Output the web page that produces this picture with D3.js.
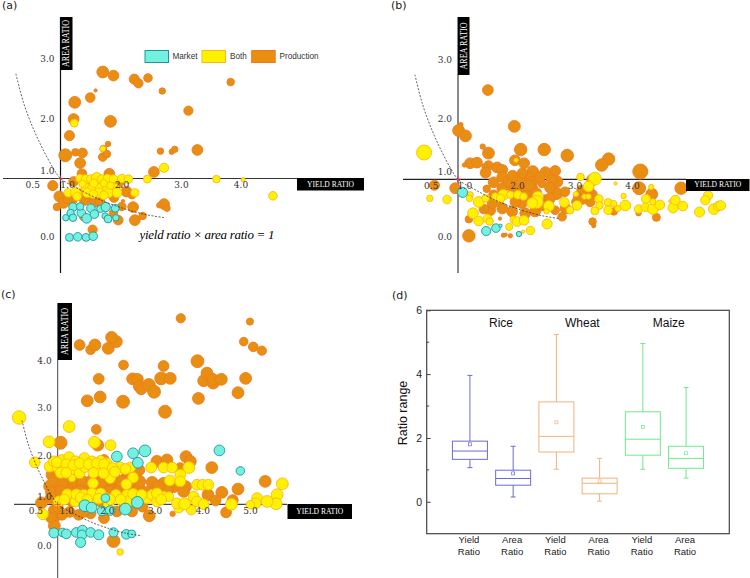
<!DOCTYPE html>
<html><head><meta charset="utf-8">
<style>html,body{margin:0;padding:0;background:#fff}svg{display:block}</style>
<script src="https://cdnjs.cloudflare.com/ajax/libs/d3/7.8.5/d3.min.js"></script>
</head><body><svg id="c" width="750" height="578"></svg>
<script>
// [yield ratio, area ratio, bubble size]
const productionA=[[1.71,2.79,5.5],[1.89,2.73,5],[2.24,2.67,4.7],[2.31,2.60,4.3],[2.47,2.69,4],[3.86,2.62,3.5],[2.71,2.47,3],[1.59,2.48,1.5],[1.50,2.36,4.5],[1.24,2.28,5.5],[3.15,2.14,4.3],[1.22,2.0,5],[1.84,1.96,5.5],[1.15,1.72,4.7],[1.80,1.58,2.5],[1.72,1.50,3.2],[1.71,1.36,4],[1.78,1.41,3.5],[1.08,1.39,6],[1.25,1.44,3.5],[1.37,1.43,4.5],[2.68,1.46,3],[2.87,1.45,2.5],[2.92,1.49,3],[3.30,1.48,5],[1.33,1.26,5],[2.57,1.11,5],[0.87,0.88,4.7],[0.98,0.70,5],[0.94,0.52,3.5],[1.36,1.08,4.5],[1.82,1.08,5],[1.22,0.95,4.5],[1.05,0.59,5],[1.19,0.64,5],[1.41,0.64,5],[1.58,0.61,5],[1.33,0.75,4],[1.72,0.75,4],[2.11,0.78,5],[2.03,0.53,4],[2.22,0.52,5],[2.05,0.62,1.5],[2.74,0.57,5],[2.66,0.55,2.5],[2.79,0.50,3],[2.38,0.37,3.5],[2.25,0.30,5],[1.97,0.30,4.5],[1.54,0.14,4.3],[1.39,0.36,4],[1.89,0.42,4],[1.55,0.93,5],[1.75,0.9,5],[1.98,0.92,4.5],[1.12,0.66,4.5],[1.5,0.72,4.5],[1.9,0.68,4.5],[1.66,0.62,4.5],[2.2,0.72,3.5]];
const bothA=[[1.23,1.93,3.7],[1.71,1.50,2.7],[2.74,1.18,4.3],[3.62,0.99,3.5],[4.07,0.98,2],[4.57,0.71,4],[2.46,0.99,3.7],[1.33,1.0,4],[1.42,0.99,4],[1.51,0.99,4],[1.61,1.01,5],[1.69,0.99,4],[1.79,1.0,4],[1.89,0.99,4],[2.03,1.0,4],[2.14,0.99,4],[1.43,0.84,4.5],[1.53,0.84,4],[1.67,0.84,4.5],[1.78,0.84,4],[1.92,0.84,4],[1.13,0.76,4],[1.26,0.76,5],[1.45,0.76,4.5],[1.64,0.76,4.5],[1.81,0.76,4.5],[1.95,0.76,4.5],[2.25,0.76,3.8],[1.28,0.70,4],[1.37,0.91,3.5],[1.56,0.92,4],[1.73,0.92,3.5],[1.84,0.88,3.5],[1.55,0.74,4],[1.73,0.72,4]];
const marketA=[[1.15,0.01,3.7],[1.29,0.02,4],[1.43,0.01,3.7],[1.55,0.03,4],[1.21,0.52,4],[1.17,0.42,3.5],[1.09,0.34,3],[1.21,0.34,3.5],[1.35,0.42,4],[1.33,0.53,3.5],[1.44,0.33,4.5],[1.51,0.50,4],[1.57,0.40,4],[1.67,0.49,3.5],[1.76,0.52,4.3],[1.75,0.37,3],[1.80,0.32,3.7],[1.92,0.50,3.7],[1.93,0.34,3]];
const productionB=[[1.52,2.50,5],[1.05,1.92,2],[1.01,1.82,5.5],[1.13,1.73,5.5],[1.98,1.89,5.5],[1.43,1.55,2.5],[1.53,1.44,5.5],[2.09,1.50,5.8],[2.50,1.50,5.8],[2.90,1.40,5.8],[1.99,1.32,5],[2.15,1.27,5],[1.21,1.27,5],[1.33,1.28,5],[1.11,1.24,2],[1.53,1.23,4.5],[1.47,1.21,3],[1.48,1.11,5],[1.68,1.20,5],[1.77,1.16,5],[1.77,1.04,5],[2.30,1.13,5.5],[2.52,1.12,5],[2.69,1.14,5],[2.22,1.04,5.5],[2.06,0.99,5.5],[2.72,0.96,5.5],[2.63,0.99,5],[2.29,0.96,5],[2.46,0.93,4],[3.62,1.34,5.8],[3.50,1.24,5.8],[4.17,1.13,7],[4.15,0.85,6],[3.34,0.99,5.5],[4.88,0.85,5.8],[4.37,0.75,5.5],[4.45,0.36,3.7],[3.34,0.29,3.5],[3.36,0.22,2],[0.59,0.90,4.7],[0.95,0.85,5],[1.19,0.05,5.8],[1.50,0.84,3.5],[1.79,0.06,2],[1.83,0.07,1.5],[1.91,0.05,2],[1.73,0.34,1.5],[1.19,0.33,3.5],[2.72,0.76,5.5],[3.10,0.71,5],[3.22,0.74,5.5],[3.33,0.74,5],[3.27,0.82,5],[1.77,0.85,5],[1.94,0.88,5],[2.11,0.82,5],[2.29,0.85,5],[1.56,0.48,5],[1.77,0.51,5],[1.94,0.46,5],[2.11,0.60,5],[2.34,0.46,5],[2.52,0.65,5],[2.81,0.37,4],[2.87,0.51,5],[3.71,0.46,3.5],[4.14,0.43,2.5],[2.69,0.48,4],[2.17,0.43,5],[1.62,0.95,5],[1.87,0.96,5],[2.02,0.78,5],[2.2,0.72,5],[2.36,0.77,5],[2.46,0.56,5],[2.6,0.86,5],[2.86,0.79,4.5],[2.0,0.62,5],[1.7,0.65,5],[1.6,0.6,5],[1.45,0.5,4.5],[2.24,0.9,5],[1.95,1.06,5],[2.12,1.1,5],[2.42,1.04,5],[1.62,0.74,4.5],[3.15,0.82,4.5],[3.3,0.62,4.5],[3.06,0.62,4.5],[3.16,0.66,4.5],[2.6,0.68,5],[2.35,0.62,5]];
const bothB=[[0.41,1.45,7],[0.51,0.68,3],[0.81,0.66,4],[2.01,1.32,2],[3.13,1.04,3.5],[3.38,1.01,6],[3.27,0.88,5],[3.05,0.75,2.5],[3.20,0.71,2.5],[3.27,0.71,2.5],[3.74,0.93,1.5],[3.88,0.72,2.5],[3.45,0.67,4],[3.46,0.56,3.5],[3.38,0.47,3.7],[3.61,0.61,3.7],[3.71,0.59,3],[3.61,0.48,4],[3.78,0.51,3],[3.91,0.56,5],[4.14,0.50,4],[4.27,0.67,4.3],[4.26,0.53,4],[4.39,0.50,5],[4.36,0.87,2.5],[4.39,0.62,3],[4.51,0.57,4.5],[4.69,0.63,1.5],[4.74,0.52,4.7],[4.78,0.65,4.5],[4.91,0.55,4.5],[5.20,0.45,4.7],[5.35,0.73,4.3],[5.30,0.65,4.3],[5.45,0.50,5],[5.53,0.55,4.5],[5.57,0.56,4.5],[1.26,0.43,5],[1.36,0.30,4.5],[1.51,0.34,4],[1.55,0.29,3.5],[1.21,0.74,3],[1.20,0.68,3],[1.36,0.62,5],[1.48,0.68,3.5],[1.65,0.71,3.5],[1.79,0.74,5],[1.74,0.68,4],[1.91,0.74,3.5],[2.04,0.74,4],[2.14,0.71,3.5],[2.39,0.71,5],[2.37,0.62,6],[2.29,0.60,5],[2.58,0.55,5],[2.85,0.61,4.5],[3.07,0.56,4.5],[2.95,0.48,3.5],[2.55,0.25,4.7],[2.26,0.14,4],[2.13,0.12,1.5],[1.89,0.20,3.3],[1.97,0.32,3.5],[2.03,0.29,4.5],[2.15,0.31,4.5],[2.54,0.46,2.5]];
const marketB=[[1.08,0.78,4.7],[1.49,0.13,4.3],[1.66,0.18,4],[1.74,0.22,1.5],[2.06,0.08,2.5]];
const productionC=[[3.58,4.90,4.3],[5.03,4.83,3.3],[4.90,4.41,4],[5.10,4.30,4.5],[5.28,4.22,4.3],[1.46,4.34,5],[1.69,4.24,4.5],[1.78,4.34,5.5],[2.06,4.27,5.5],[2.23,4.41,5.5],[2.13,4.50,5.5],[2.38,3.92,4.5],[3.22,3.90,5],[3.93,4.00,6],[1.86,3.63,5],[2.57,3.63,5.5],[2.67,3.62,5.5],[2.70,3.47,5],[2.75,3.41,5],[2.91,3.50,6],[3.02,3.36,6],[3.17,3.64,6],[3.36,3.64,5.5],[3.25,2.94,6],[1.62,3.17,5.5],[1.89,3.25,5.5],[2.37,3.15,6],[3.95,3.22,5.5],[4.06,3.59,5.5],[4.13,3.75,5.5],[4.26,3.54,5.5],[4.25,3.62,5.5],[4.43,3.62,5.5],[4.94,3.64,5.5],[4.78,3.34,5.5],[1.81,2.57,4.5],[1.06,2.29,6],[1.84,2.24,5.5],[3.69,2.00,5.5],[3.78,1.90,5.5],[3.08,1.90,5.5],[3.29,1.93,5.5],[4.23,1.77,5.5],[5.35,1.48,5.5],[4.78,1.32,5.5],[4.44,1.25,5.5],[4.15,1.20,5.5],[4.31,1.08,5],[4.67,1.09,5],[4.53,0.83,5],[3.41,0.80,2.5],[2.92,0.76,5.5],[0.66,1.03,5.5],[0.95,0.74,5],[0.93,0.55,5.5],[2.17,0.23,6],[0.83,1.38,5.5],[1.06,1.37,5.5],[1.27,1.41,5.5],[1.48,1.41,5.5],[1.69,1.37,5.5],[1.90,1.34,5.5],[2.10,1.41,5.5],[2.31,1.37,5.5],[2.56,1.41,5.5],[2.70,1.37,5.5],[2.98,1.46,5.5],[3.22,1.44,5.5],[3.43,1.37,5.5],[3.68,1.37,5.5],[3.64,1.27,5.5],[0.88,1.62,5.5],[1.13,1.58,5.5],[1.41,1.62,5.5],[1.83,1.58,5.5],[2.17,1.62,5.5],[2.45,1.58,5.5],[2.70,1.72,5.5],[3.57,1.76,5],[1.55,1.93,5],[1.97,1.93,5],[1.09,0.78,5],[1.44,0.78,5],[1.69,0.81,5],[1.97,0.71,5],[2.24,0.85,5],[2.56,0.85,5],[0.85,1.13,5],[1.30,1.06,5],[1.90,1.06,5],[2.80,1.13,5],[2.59,1.20,5],[1.06,1.13,5],[0.92,1.5,5.5],[1.12,1.47,5.5],[1.33,1.5,5.5],[1.52,1.48,5.5],[1.72,1.5,5.5],[1.93,1.47,5.5],[2.13,1.5,5.5],[2.33,1.48,5.5],[2.52,1.5,5.5],[2.72,1.48,5.5],[0.87,1.25,5.5],[1.07,1.26,5.5],[1.25,1.24,5.5],[1.46,1.27,5.5],[1.66,1.25,5.5],[1.86,1.24,5.5],[2.06,1.27,5.5],[2.27,1.25,5.5],[2.47,1.24,5.5],[2.67,1.26,5.5],[2.88,1.25,5.5],[3.3,1.3,5.5],[3.1,1.37,5.5],[0.92,0.88,5],[1.0,0.95,5],[0.86,0.72,5],[1.25,0.84,5],[1.55,0.84,5],[2.78,0.95,5],[2.4,0.95,5]];
const bothC=[[0.19,2.82,6.3],[0.52,1.88,5],[1.24,2.63,5.5],[0.82,2.31,5.5],[1.77,2.30,5.5],[2.11,2.24,5],[2.31,0.0,3],[0.69,0.79,5],[5.71,1.43,5.5],[5.60,1.20,5.5],[5.58,1.01,5.5],[5.18,1.13,5],[5.39,1.06,5.5],[5.15,1.02,5],[5.04,0.99,4],[4.64,1.0,5.5],[3.92,1.41,5],[4.04,1.41,5],[4.16,1.41,5],[3.85,1.16,5],[3.92,1.06,5],[4.06,1.0,5],[3.80,0.88,4.5],[3.54,0.92,4.5],[3.50,1.02,5],[3.66,1.01,5.5],[0.83,1.79,5],[1.0,1.77,5],[1.13,1.76,5],[1.28,1.72,5],[1.46,1.65,5],[1.57,1.78,5],[1.73,1.78,5],[1.88,1.74,5],[2.0,1.79,5],[2.30,1.78,5],[2.52,1.77,5],[2.96,1.77,5],[3.22,1.77,5],[3.40,1.77,5],[3.75,1.77,5.5],[0.92,1.9,5],[1.09,1.93,5],[1.24,1.99,5],[1.37,1.9,5],[1.56,1.97,5],[1.72,1.9,5],[1.9,1.91,5],[2.03,1.86,5],[2.10,1.55,5],[1.30,1.55,3.5],[2.58,1.56,5],[2.44,1.42,5],[1.74,1.44,5],[3.35,1.50,5],[3.57,1.62,5],[3.57,1.48,5],[1.02,1.06,5],[1.2,1.21,5],[1.37,1.06,5],[1.39,1.21,5],[1.55,1.2,5],[1.76,1.13,5],[1.72,1.23,5],[2.0,1.13,5],[2.22,1.2,5],[2.45,1.2,5],[2.49,1.07,5],[2.66,1.13,5],[2.87,1.13,5],[2.98,1.2,5],[3.08,1.06,5],[3.22,1.16,5],[3.33,1.16,4.5],[3.08,1.23,5],[1.9,1.23,5],[2.07,0.99,5],[0.98,1.88,5],[1.18,1.84,5],[1.33,1.82,5],[1.46,1.86,5],[1.65,1.84,5],[1.82,1.86,5],[1.97,1.84,5],[2.15,1.76,5],[2.42,1.74,5],[1.06,1.66,5],[1.18,1.66,5],[1.75,1.66,5],[1.96,1.65,5],[2.2,1.68,5],[1.48,1.14,5],[1.86,1.12,5],[2.1,1.1,5],[2.32,1.1,5],[2.58,1.22,5],[2.76,1.2,5],[3.17,1.1,5],[1.14,1.1,5],[1.62,1.1,5]];
const marketC=[[2.24,2.0,5],[2.58,2.07,5],[2.83,2.12,5.5],[2.68,1.87,5],[4.39,2.13,5],[4.83,1.70,4],[2.0,1.13,4],[2.67,1.04,5.5],[1.57,0.97,5.5],[1.71,0.93,5],[1.93,0.86,4.5],[2.10,0.87,4.5],[2.42,0.90,5.5],[0.92,0.40,4.7],[1.10,0.41,4],[1.18,0.38,4.5],[1.39,0.41,4.5],[1.52,0.46,4.5],[1.51,0.36,4.5],[1.69,0.41,4.5],[1.86,0.36,4.7],[2.17,0.41,4.3],[2.44,0.37,4.5],[2.55,0.38,3.7],[1.48,0.20,4.7]];
const curveYield=[0.25,0.38,0.55,0.71,0.88,1,1.27,1.67,2.11,2.45,2.76];
const curveArea=[2.76,2.27,1.82,1.48,1.17,1,0.84,0.64,0.48,0.39,0.34];
const xTicksA=[0.5,1,2,3,4], yTicksA=[0,1,2,3];
const xTicksB=[0.5,1,2,3,4], yTicksB=[0,1,2,3];
const xTicksC=[0.5,1,2,3,4,5], yTicksC=[0,1,2,3,4];
const legendLabels=["Market","Both","Production"];
const boxCategories=["Yield Ratio","Area Ratio","Yield Ratio","Area Ratio","Yield Ratio","Area Ratio"];
const boxLow=[1.07,0.15,1.02,0.02,1.02,0.74];
const boxQ1=[1.33,0.52,1.56,0.25,1.46,1.05];
const boxMedian=[1.59,0.73,2.05,0.58,1.96,1.36];
const boxQ3=[1.90,0.99,3.13,0.74,2.82,1.74];
const boxHigh=[3.96,1.74,5.24,1.36,4.96,3.58];
const boxMean=[1.80,0.89,2.49,0.64,2.34,1.52];
const cropNames=["Rice","Wheat","Maize"];

const svg=d3.select("#c");
const FILL={Market:"#74f0de",Both:"#fff200",Production:"#e88f12"};
const EDGE={Market:"#1f95a0",Both:"#f9b816",Production:"#ef7a1e"};
const SERIF="'DejaVu Serif',serif", SANS="'Liberation Sans',Arial,sans-serif";
const rScale=d3.scaleLinear().domain([0,7]).range([0,7.5]);

function scatter(o){
  const x=d3.scaleLinear().domain([1,2]).range([o.x0,o.x0+o.ux]);
  const y=d3.scaleLinear().domain([1,2]).range([o.y0,o.y0-o.uy]);
  const g=svg.append("g");
  g.append("line").attr("x1",o.hFrom).attr("x2",o.hTo).attr("y1",o.y0).attr("y2",o.y0).attr("stroke",o.hColor).attr("stroke-width",1.2);
  g.append("line").attr("x1",o.x0).attr("x2",o.x0).attr("y1",o.vTop).attr("y2",o.vBottom).attr("stroke",o.vColor).attr("stroke-width",o.vWidth);
  [["Production",o.production],["Both",o.both],["Market",o.market]].forEach(([k,data])=>{
    g.append("g").selectAll("circle").data(data).join("circle")
      .attr("cx",d=>x(d[0])).attr("cy",d=>y(d[1])).attr("r",d=>rScale(d[2]))
      .attr("fill",FILL[k]).attr("stroke",EDGE[k]).attr("stroke-width",0.9);
  });
  o.xTicks.forEach(v=>g.append("text").attr("x",x(v)+(v===1?o.oneNudge:2)).attr("y",o.y0+7).attr("text-anchor","middle").attr("dominant-baseline","middle").attr("font-family",SERIF).attr("font-size",9).attr("fill","#333").text(v.toFixed(1)));
  o.yTicks.forEach(v=>g.append("text").attr("x",o.x0-6).attr("y",y(v)+(v===1?-7:v===0?o.zeroNudge:0)).attr("text-anchor","end").attr("dominant-baseline","middle").attr("font-family",SERIF).attr("font-size",9).attr("fill","#333").text(v.toFixed(1)));
  const line=d3.line().x(i=>x(curveYield[i])).y(i=>y(curveArea[i])).curve(d3.curveCatmullRom);
  g.append("path").attr("d",line(d3.range(curveYield.length))).attr("fill","none").attr("stroke","#222").attr("stroke-width",0.7).attr("stroke-dasharray","2,1.5");
  g.append("path").attr("d",`M${x(1)-3},${y(1)}h6M${x(1)},${y(1)-3}v6`).attr("stroke","#e8304a").attr("stroke-width",0.8).attr("fill","none");
  // label boxes
  const b=o.hBox;
  g.append("rect").attr("x",b[0]).attr("y",b[1]).attr("width",b[2]).attr("height",b[3]).attr("fill","#000");
  g.append("text").attr("x",b[0]+b[2]/2).attr("y",b[1]+b[3]/2+0.5).attr("text-anchor","middle").attr("dominant-baseline","middle").attr("font-family","'Liberation Serif',serif").attr("font-size",8.5).attr("textLength",47).attr("lengthAdjust","spacingAndGlyphs").attr("fill","#fff").text("YIELD RATIO");
  const c=o.vBox;
  g.append("rect").attr("x",c[0]).attr("y",c[1]).attr("width",c[2]).attr("height",c[3]).attr("fill","#000");
  g.append("text").attr("transform",`translate(${c[0]+c[2]/2+0.5},${c[1]+c[3]/2}) rotate(-90)`).attr("text-anchor","middle").attr("dominant-baseline","middle").attr("font-family","'Liberation Serif',serif").attr("font-size",10).attr("textLength",47).attr("lengthAdjust","spacingAndGlyphs").attr("fill","#fff").text("AREA RATIO");
}
scatter({x0:60.5,ux:59.5,y0:178.5,uy:59.5,hFrom:3,hTo:297,hColor:"#333",vTop:17,vBottom:273,vColor:"#111",vWidth:1.2,oneNudge:7,zeroNudge:-1,xTicks:xTicksA,yTicks:yTicksA,production:productionA,both:bothA,market:marketA,hBox:[297,178,67,12.5],vBox:[60,17,12.5,53]});
scatter({x0:458,ux:57.5,y0:179.3,uy:59.5,hFrom:403,hTo:686,hColor:"#222",vTop:17,vBottom:273,vColor:"#8a8a8a",vWidth:2,oneNudge:7,zeroNudge:-1,xTicks:xTicksB,yTicks:yTicksB,production:productionB,both:bothB,market:marketB,hBox:[686,179,63.5,12],vBox:[458,17,11.5,58]});
scatter({x0:57.7,ux:47.7,y0:504.3,uy:47.7,hFrom:14,hTo:287,hColor:"#444",vTop:303,vBottom:578,vColor:"#444",vWidth:1,oneNudge:9,zeroNudge:-6,xTicks:xTicksC,yTicks:yTicksC,production:productionC,both:bothC,market:marketC,hBox:[287.5,504,64.5,15],vBox:[58,303,14,57]});

// legend of panel a
const legX=[145,202,251.7], legT=[172.5,230,279.5];
legendLabels.forEach((k,i)=>{
  svg.append("rect").attr("x",legX[i]).attr("y",50.5).attr("width",23.5).attr("height",12).attr("fill",FILL[k]).attr("stroke",EDGE[k]).attr("stroke-width",1);
  svg.append("text").attr("x",legT[i]).attr("y",57).attr("dominant-baseline","middle").attr("font-family",SANS).attr("font-size",8.2).attr("fill","#333").text(k);
});
svg.append("text").attr("x",139.5).attr("y",239).attr("font-family","'Liberation Serif',serif").attr("font-style","italic").attr("font-size",13).attr("textLength",135).attr("fill","#000").text("yield ratio × area ratio = 1");

// panel letters
[["(a)",2,9],["(b)",391,9],["(c)",1,298],["(d)",392,299]].forEach(([t,x,y])=>svg.append("text").attr("x",x).attr("y",y).attr("font-family","'DejaVu Sans',sans-serif").attr("font-size",11).attr("fill","#222").text(t));

// panel d
const L=426.7,R=729.3,T=310.3,B=533.7;
const xd=d3.scaleLinear().domain([0,7]).range([L,R]);
const yd=d3.scaleLinear().domain([-1,6]).range([B,T]);
const gd=svg.append("g");
const ax=d3.axisLeft(yd).tickValues([0,2,4,6]).tickSize(4).tickFormat(d3.format("d"));
const ga=gd.append("g").attr("transform",`translate(${L},0)`).call(ax);
ga.select(".domain").remove();
ga.selectAll("text").attr("font-family",SANS).attr("font-size",10.5).attr("fill","#222").attr("x",-4.5);
ga.selectAll("line").attr("x2",4).attr("stroke","#444");
gd.append("g").selectAll("line").data([1,3,5]).join("line").attr("x1",L).attr("x2",L+2.5).attr("y1",d=>yd(d)).attr("y2",d=>yd(d)).attr("stroke","#444");
gd.append("rect").attr("x",L).attr("y",T).attr("width",R-L).attr("height",B-T).attr("fill","none").attr("stroke","#444").attr("stroke-width",1.2);
const boxColors=["#6a6ad8","#6a6ad8","#f2b27a","#f2b27a","#72e88c","#72e88c"];
boxCategories.forEach((cat,i)=>{
  const cx=xd(i+1), col=boxColors[i], w=17.5;
  const g=gd.append("g").attr("stroke",col).attr("fill","none").attr("stroke-width",1);
  g.append("line").attr("x1",cx).attr("x2",cx).attr("y1",yd(boxHigh[i])).attr("y2",yd(boxQ3[i]));
  g.append("line").attr("x1",cx).attr("x2",cx).attr("y1",yd(boxQ1[i])).attr("y2",yd(boxLow[i]));
  [boxHigh[i],boxLow[i]].forEach(v=>g.append("line").attr("x1",cx-2.5).attr("x2",cx+2.5).attr("y1",yd(v)).attr("y2",yd(v)));
  g.append("rect").attr("x",cx-w).attr("y",yd(boxQ3[i])).attr("width",2*w).attr("height",yd(boxQ1[i])-yd(boxQ3[i]));
  g.append("line").attr("x1",cx-w).attr("x2",cx+w).attr("y1",yd(boxMedian[i])).attr("y2",yd(boxMedian[i]));
  g.append("rect").attr("x",cx-1.5).attr("y",yd(boxMean[i])-1.5).attr("width",3).attr("height",3).attr("stroke-width",0.7);
  cat.split(" ").forEach((t,j)=>gd.append("text").attr("x",cx-1).attr("y",540.7+j*12).attr("text-anchor","middle").attr("dominant-baseline","middle").attr("font-family",SANS).attr("font-size",9.5).attr("fill","#222").text(t));
});
const cropX=[1.72,3.6,5.6];
cropNames.forEach((t,i)=>gd.append("text").attr("x",xd(cropX[i])).attr("y",324).attr("text-anchor","middle").attr("dominant-baseline","middle").attr("font-family",SANS).attr("font-size",12).attr("fill","#111").text(t));
gd.append("text").attr("transform","translate(404,413) rotate(-90)").attr("text-anchor","middle").attr("dominant-baseline","middle").attr("font-family",SANS).attr("font-size",12.5).attr("fill","#111").text("Ratio range");
</script></body></html>
